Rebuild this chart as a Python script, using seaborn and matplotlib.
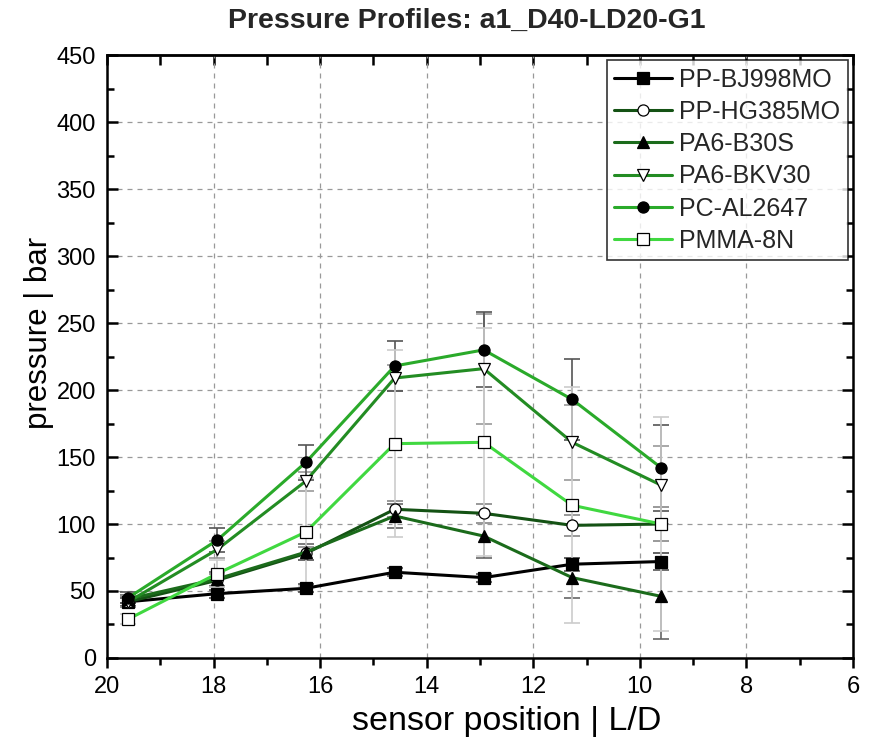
import numpy as np
import pandas as pd
import matplotlib
matplotlib.use("Agg")
import matplotlib.pyplot as plt
import seaborn as sns
from matplotlib.ticker import MultipleLocator

sns.set_theme(style="white")
plt.rcParams['font.family'] = ['Liberation Sans', 'DejaVu Sans']

positions = [19.6, 17.93, 16.27, 14.6, 12.93, 11.27, 9.6]

series_names = ["PP-BJ998MO", "PP-HG385MO", "PA6-B30S", "PA6-BKV30", "PC-AL2647", "PMMA-8N"]

pp_bj998mo = [42, 48, 52, 64, 60, 70, 72]
pp_hg385mo = [42, 58, 78, 111, 108, 99, 100]
pa6_b30s = [44, 59, 79, 106, 91, 60, 46]
pa6_bkv30 = [42, 81, 132, 209, 216, 161, 129]
pc_al2647 = [45, 88, 146, 218, 230, 193, 142]
pmma_8n = [29, 63, 94, 160, 161, 114, 100]

err_pp_bj998mo = [3, 3, 3, 3, 3, 5, 6]
err_pp_hg385mo = [4, 5, 5, 6, 7, 8, 13]
err_pa6_b30s = [3, 5, 6, 9, 16, 15, 32]
err_pa6_bkv30 = [4, 6, 7, 10, 41, 28, 29]
err_pc_al2647 = [4, 9, 13, 19, 28, 30, 32]
err_pmma_8n = [4, 10, 40, 70, 85, 88, 80]

values = [pp_bj998mo, pp_hg385mo, pa6_b30s, pa6_bkv30, pc_al2647, pmma_8n]
errors = [err_pp_bj998mo, err_pp_hg385mo, err_pa6_b30s, err_pa6_bkv30, err_pc_al2647, err_pmma_8n]

line_colors = ["#000000", "#145214", "#1b6b1b", "#238c23", "#2aaa2a", "#40d840"]
markers = ["s", "o", "^", "v", "o", "s"]
face_colors = ["#000000", "white", "#000000", "white", "#000000", "white"]
err_colors = ["#555555", "#888888", "#666666", "#999999", "#555555", "#cccccc"]

fig = plt.figure(figsize=(8.71, 7.46), dpi=100)
ax = fig.add_axes([0.1228, 0.118, 0.9793 - 0.1228, 0.926 - 0.118])

for name, vals, errs, lc, mk, fc, ec in zip(series_names, values, errors, line_colors,
                                             markers, face_colors, err_colors):
    ax.errorbar(positions, vals, yerr=errs, fmt="none", ecolor=ec, elinewidth=1.2,
                capsize=6, capthick=1.2, zorder=2)
    df = pd.DataFrame({"x": positions, "y": vals})
    sns.lineplot(data=df, x="x", y="y", ax=ax, color=lc, linewidth=2.2,
                 marker=mk, markersize=8 if mk != "v" else 9,
                 markerfacecolor=fc, markeredgecolor="#000000", markeredgewidth=0.9,
                 label=name, zorder=3, sort=False)

ax.set_xlim(20, 6)
ax.set_ylim(0, 450)
ax.xaxis.set_major_locator(MultipleLocator(2))
ax.xaxis.set_minor_locator(MultipleLocator(1))
ax.yaxis.set_major_locator(MultipleLocator(50))
ax.yaxis.set_minor_locator(MultipleLocator(25))

ax.grid(True, which="major", linestyle=(0, (4, 4)), color="#999999", linewidth=0.9)
ax.set_axisbelow(True)

for sp in ax.spines.values():
    sp.set_color("black")
    sp.set_linewidth(1.8)

ax.tick_params(axis="x", which="both", direction="out", bottom=True, top=False,
               labelsize=17, colors="black", width=1.8, pad=6)
ax.tick_params(axis="x", which="major", length=7)
ax.tick_params(axis="x", which="minor", length=5)
ax.tick_params(axis="y", which="both", direction="in", left=True, right=True,
               labelsize=17, colors="black", width=1.8, pad=8)
ax.tick_params(axis="y", which="major", length=8)
ax.tick_params(axis="y", which="minor", length=5)

top = ax.secondary_xaxis("top")
top.xaxis.set_major_locator(MultipleLocator(1))
top.tick_params(axis="x", which="both", direction="in", length=7, width=1.8,
                labeltop=False, colors="black")
top.spines["top"].set_linewidth(1.8)

ax.set_xlabel("sensor position | L/D", fontsize=24.5, color="black", labelpad=6)
ax.xaxis.label.set_x(0.536)
ax.set_ylabel("pressure | bar", fontsize=22.5, color="black", labelpad=2)
ax.yaxis.label.set_y(0.539)
fig.suptitle("Pressure Profiles: a1_D40-LD20-G1", fontsize=20.5, fontweight="bold",
             y=0.99, x=0.536)

leg = ax.legend(loc="upper right", fontsize=18, frameon=True, fancybox=False,
                edgecolor="black", borderpad=0.3, handlelength=2.3,
                labelspacing=0.33, handletextpad=0.3, borderaxespad=0.2)
leg.get_frame().set_linewidth(1.2)

fig.savefig("out.png", dpi=100)
